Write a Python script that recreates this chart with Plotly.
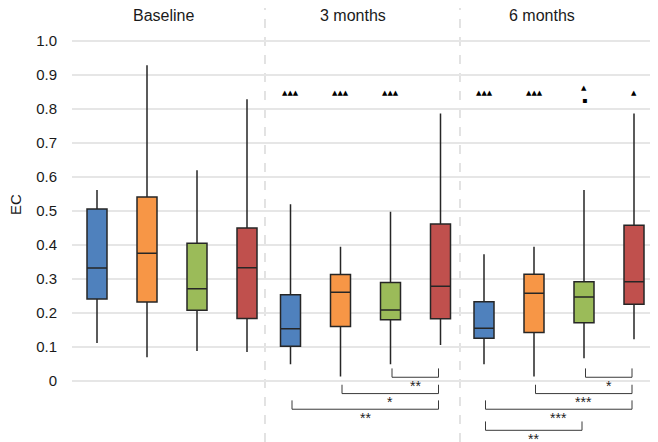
import plotly.graph_objects as go

# ---------------- data ----------------
periods = ["Baseline", "3 months", "6 months"]
series = ["Group 1", "Group 2", "Group 3", "Group 4"]
colors = ["#4F81BD", "#F79646", "#9BBB59", "#C0504D"]

upper_whisker = [
    [0.562, 0.520, 0.373],
    [0.929, 0.395, 0.395],
    [0.620, 0.498, 0.562],
    [0.829, 0.787, 0.787],
]
q3_values = [
    [0.506, 0.254, 0.233],
    [0.541, 0.313, 0.314],
    [0.405, 0.290, 0.292],
    [0.450, 0.462, 0.458],
]
median_values = [
    [0.332, 0.154, 0.155],
    [0.376, 0.261, 0.258],
    [0.271, 0.209, 0.247],
    [0.333, 0.279, 0.292],
]
q1_values = [
    [0.241, 0.102, 0.126],
    [0.232, 0.160, 0.143],
    [0.208, 0.180, 0.171],
    [0.184, 0.183, 0.226],
]
lower_whisker = [
    [0.112, 0.049, 0.049],
    [0.070, 0.013, 0.013],
    [0.088, 0.049, 0.067],
    [0.085, 0.106, 0.123],
]

# significance vs baseline markers: (period index, series index, text)
baseline_marks = [
    (1, 0, "▲▲▲"), (1, 1, "▲▲▲"), (1, 2, "▲▲▲"),
    (2, 0, "▲▲▲"), (2, 1, "▲▲▲"), (2, 2, "▲"), (2, 3, "▲"),
]
square_marks = [(2, 2, "▪")]

# pairwise comparisons: (period index, series a, series b, label)
comparisons = [
    (1, 2, 3, "**"), (1, 1, 3, "*"), (1, 0, 3, "**"),
    (2, 2, 3, "*"), (2, 1, 3, "***"), (2, 0, 3, "***"), (2, 0, 2, "**"),
]

y_tick_vals = [0, 0.1, 0.2, 0.3, 0.4, 0.5, 0.6, 0.7, 0.8, 0.9, 1.0]
y_tick_text = ["0", "0.1", "0.2", "0.3", "0.4", "0.5", "0.6", "0.7", "0.8", "0.9", "1.0"]

# ---------------- layout helpers ----------------
GROUP_STEP = 3.87
BOX_STEP = 1.0
OFF = 8  # page body margin of the browser
W, H = 658 - OFF, 442 - OFF
LEFT = 72 - OFF


def xpos(g, k):
    return g * GROUP_STEP + k * BOX_STEP


FONT = "Liberation Sans, Arial, sans-serif"
fig = go.Figure()

for k, name in enumerate(series):
    fig.add_trace(go.Box(
        name=name,
        x=[xpos(g, k) for g in range(len(periods))],
        q1=q1_values[k], median=median_values[k], q3=q3_values[k],
        lowerfence=lower_whisker[k], upperfence=upper_whisker[k],
        width=0.4, whiskerwidth=0,
        fillcolor=colors[k],
        line=dict(color="#262626", width=1.5),
        boxpoints=False, showlegend=False, hoverinfo="skip",
    ))

annotations = []
# panel headers
header_x = [1.33, 5.11, 8.9]
for g, p in enumerate(periods):
    annotations.append(dict(x=header_x[g], y=1.075, xref="x", yref="y", text=p,
                            showarrow=False, font=dict(family=FONT, size=16, color="#1a1a1a")))

# baseline significance markers
sq_keys = [(s[0], s[1]) for s in square_marks]
for g, k, t in baseline_marks:
    yy = 0.862 if (g, k) in sq_keys else 0.848
    annotations.append(dict(x=xpos(g, k), y=yy, xref="x", yref="y", text=t, showarrow=False,
                            font=dict(family="DejaVu Sans", size=7, color="#000")))
for g, k, t in square_marks:
    annotations.append(dict(x=xpos(g, k), y=0.826, xref="x", yref="y", text=t, showarrow=False,
                            font=dict(family="DejaVu Sans", size=8, color="#000")))

# comparison brackets
BRACKET_Y = [0.011, -0.037, -0.083, -0.145]
TICK_H = 0.026
level_count = {}
for g, a, b, lab in comparisons:
    lvl = level_count.get(g, 0)
    level_count[g] = lvl + 1
    yb = BRACKET_Y[lvl]
    x1 = xpos(g, a) + 0.03
    x2 = xpos(g, b) - 0.04
    fig.add_trace(go.Scatter(x=[x1, x1, x2, x2], y=[yb + TICK_H, yb, yb, yb + TICK_H],
                             mode="lines", line=dict(color="#3a3a3a", width=1),
                             showlegend=False, hoverinfo="skip"))
    annotations.append(dict(x=(x1 + x2) / 2, y=yb + 0.005, xref="x", yref="y", text=lab,
                            showarrow=False, yanchor="top",
                            font=dict(family=FONT, size=14, color="#222")))

# y axis title
annotations.append(dict(x=(15 - 72) / (658 - 72), y=1 - (205 - OFF) / H,
                        xref="paper", yref="paper", text="EC", showarrow=False,
                        xanchor="center", yanchor="middle", textangle=-90,
                        font=dict(family=FONT, size=15, color="#1a1a1a")))

shapes = []
for xd in [3.36, 7.26]:
    shapes.append(dict(type="line", xref="x", yref="paper", x0=xd, x1=xd, y0=0, y1=1,
                       line=dict(color="#d0d0d0", width=1.2, dash="dash"), layer="below"))

y_top = (381 - OFF) / 340
y_bot = -(442 - 381) / 340

fig.update_layout(
    width=W, height=H,
    margin=dict(l=LEFT, r=0, t=0, b=0, pad=0),
    paper_bgcolor="white", plot_bgcolor="white",
    boxmode="overlay",
    showlegend=False,
    annotations=annotations,
    shapes=shapes,
    xaxis=dict(range=[-0.5, 11.22], showgrid=False, zeroline=False, showticklabels=False,
               ticks="", showline=False, fixedrange=True),
    yaxis=dict(range=[y_bot, y_top], tickvals=y_tick_vals, ticktext=y_tick_text,
               showgrid=True, gridcolor="#e6e6e6", gridwidth=1.5, zeroline=False,
               ticks="", ticklabelstandoff=14, showline=False, automargin=False,
               tickfont=dict(family=FONT, size=15, color="#1a1a1a")),
)

fig.write_html("out.html")
